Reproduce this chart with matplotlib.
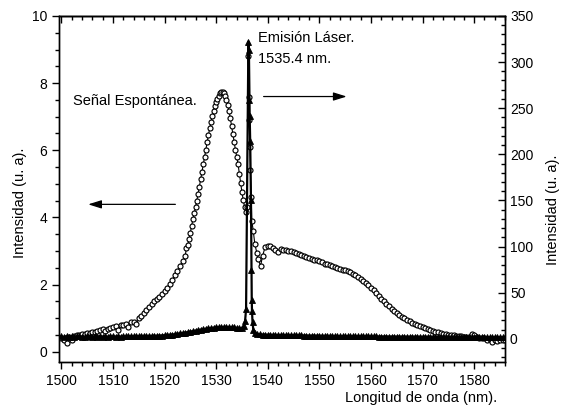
import numpy as np
import matplotlib
matplotlib.use("Agg")
from matplotlib import pyplot as plt
from matplotlib.ticker import MultipleLocator

plt.rcParams['font.family'] = ['Liberation Sans', 'DejaVu Sans']

# Señal espontánea (eje izquierdo), circulos abiertos
esp_y1 = [0.42, 0.35, 0.26, 0.45, 0.34, 0.48, 0.50, 0.51, 0.52, 0.53,
          0.55, 0.56, 0.58, 0.60, 0.62, 0.64, 0.68, 0.62, 0.69, 0.71,
          0.74, 0.76, 0.66, 0.79, 0.81, 0.83, 0.74, 0.88, 0.90, 0.82,
          1.00, 1.07, 1.15, 1.24, 1.33, 1.42, 1.50, 1.57, 1.63, 1.72,
          1.80, 1.90, 2.02, 2.15, 2.28, 2.42, 2.56, 2.70]          # 1500.0 - 1523.5, paso 0.5
esp_y2 = [2.85, 3.10, 3.18, 3.35, 3.55, 3.75, 3.95, 4.12, 4.30, 4.50,
          4.70, 4.92, 5.14, 5.36, 5.58, 5.80, 6.02, 6.24, 6.45, 6.65,
          6.84, 7.01, 7.17, 7.31, 7.43, 7.54, 7.63, 7.70, 7.74, 7.74,
          7.70, 7.62, 7.50, 7.35, 7.16, 6.95, 6.72, 6.48, 6.24, 6.00,
          5.80, 5.58, 5.30, 5.02, 4.75, 4.52, 4.32, 4.15]          # 1524.0 - 1535.75, paso 0.25
esp_x3 = [1536.0, 1536.2, 1536.35, 1536.45, 1536.55, 1536.65, 1536.8,
          1536.9, 1537.2, 1537.5, 1537.9, 1538.2, 1538.6, 1539.0]
esp_y3 = [4.3, 8.8, 7.6, 6.9, 6.1, 5.4, 4.6, 3.9, 3.6, 3.2, 2.95, 2.75, 2.55, 2.85]
esp_y4 = [3.13, 3.16, 3.14, 3.10, 3.02, 2.98, 3.06, 3.04, 3.03, 3.01,
          2.99, 2.97, 2.95, 2.92, 2.88, 2.85, 2.82, 2.79, 2.76, 2.74,
          2.72, 2.69, 2.66, 2.62, 2.60, 2.57, 2.55, 2.53, 2.50, 2.48,
          2.45, 2.43, 2.40, 2.37, 2.33, 2.28, 2.22, 2.16, 2.10, 2.04,
          1.98, 1.91, 1.83, 1.75, 1.66, 1.58, 1.50, 1.42, 1.35, 1.28,
          1.22, 1.15, 1.10, 1.05, 1.00, 0.95, 0.91, 0.87, 0.83, 0.80,
          0.77, 0.73, 0.70, 0.67, 0.64, 0.62, 0.60, 0.58, 0.56, 0.54,
          0.52, 0.51, 0.50, 0.49, 0.48, 0.47, 0.46, 0.45, 0.44, 0.44,
          0.52, 0.50, 0.43, 0.42, 0.41, 0.40, 0.34, 0.38, 0.30, 0.36,
          0.33, 0.35, 0.34, 0.35]                                  # 1539.5 - 1586.0, paso 0.5

esp_x = np.concatenate([np.arange(1500.0, 1523.75, 0.5), np.arange(1524.0, 1535.8, 0.25),
                        esp_x3, np.arange(1539.5, 1586.25, 0.5)])
esp_y = np.concatenate([esp_y1, esp_y2, esp_y3, esp_y4])

# Emision laser (eje derecho), triangulos
las_y1 = [2.6, 2.1, 3.0, 2.4, 2.8, 2.2, 2.7, 3.1, 2.5, 2.3,
          2.9, 2.6, 2.2, 2.8, 2.5, 3.0, 2.4, 2.7, 2.3, 2.9,
          2.6, 2.5, 2.8, 2.4, 2.9, 2.6, 3.0, 2.7, 2.8, 3.1,
          2.9, 3.0, 3.2, 2.9, 3.3, 3.1, 3.4, 3.3, 3.5, 3.6,
          3.8, 4.0, 4.3, 4.6, 5.0, 5.4, 5.8, 6.3, 6.8, 7.3,
          7.9, 8.4, 9.0, 9.5, 10.0, 10.5, 11.0, 11.4, 11.8, 12.1,
          12.4, 12.6, 12.8, 12.9, 12.9, 12.8, 12.6, 12.3, 11.9, 11.5,
          11.2]                                                    # 1500.0 - 1535.0, paso 0.5
las_x2 = [1535.4, 1535.6, 1535.8, 1536.25, 1536.35, 1536.45, 1536.5, 1536.6,
          1536.75, 1536.85, 1536.9, 1536.95, 1537.05, 1537.2, 1537.5, 1538.0]
las_y2 = [14, 19, 32, 322, 313, 259, 241, 214, 150, 75, 42, 30, 18, 10, 6.5, 5.0]
las_y3 = [4.8, 4.6, 4.5, 4.4, 4.3, 4.3, 4.2, 4.1, 4.1, 4.0,
          4.0, 3.9, 3.9, 3.8, 3.8, 3.7, 3.7, 3.6, 3.6, 3.5,
          3.5, 3.4, 3.4, 3.3, 3.3, 3.2, 3.2, 3.1, 3.1, 3.0,
          3.0, 3.0, 2.9, 2.9, 2.9, 2.8, 2.8, 2.8, 2.7, 2.7,
          2.7, 2.7, 2.6, 2.6, 2.6, 2.6, 2.5, 2.5, 2.5, 2.5,
          2.5, 2.4, 2.4, 2.4, 2.4, 2.4, 2.3, 2.3, 2.3, 2.3,
          2.3, 2.3, 2.2, 2.2, 2.2, 2.2, 2.2, 2.2, 2.1, 2.1,
          2.1, 2.1, 2.1, 2.1, 2.0, 2.0, 2.0, 2.0, 2.0, 2.0,
          2.0, 1.9, 1.9, 1.9, 1.9, 1.9, 1.9, 1.8, 1.8, 1.8,
          1.8, 1.8, 1.8, 1.7, 1.7, 1.7]                            # 1538.5 - 1586.0, paso 0.5

las_x = np.concatenate([np.arange(1500.0, 1535.25, 0.5), las_x2, np.arange(1538.5, 1586.25, 0.5)])
las_y = np.concatenate([las_y1, las_y2, las_y3])


fig = plt.figure(figsize=(5.65, 4.08), dpi=100)
ax = fig.add_axes([0.104, 0.113, 0.790, 0.848])
ax2 = ax.twinx()

ax.plot(esp_x, esp_y, color='black', lw=0.8, marker='o', ms=3.6, mfc='white',
        mec='black', mew=0.85, zorder=3)
ax2.plot(las_x, las_y, color='black', lw=1.6, marker='^', ms=4.2, mfc='black',
         mec='black', mew=0.6)

ax.set_xlim(1499.5, 1586)
ax.set_ylim(-0.3, 10)
ax2.set_ylim(-25, 350)

ax.xaxis.set_major_locator(MultipleLocator(10))
ax.xaxis.set_minor_locator(MultipleLocator(2))
ax.yaxis.set_major_locator(MultipleLocator(2))
ax.yaxis.set_minor_locator(MultipleLocator(0.5))
ax2.yaxis.set_major_locator(MultipleLocator(50))
ax2.yaxis.set_minor_locator(MultipleLocator(10))

ax.tick_params(which='major', direction='out', length=5, width=1, labelsize=10)
ax.tick_params(which='minor', direction='out', length=3, width=1)
ax2.tick_params(which='major', direction='in', length=5, width=1, labelsize=10)
ax2.tick_params(which='minor', direction='in', length=3, width=1)

top = ax.secondary_xaxis('top')
top.xaxis.set_major_locator(MultipleLocator(10))
top.xaxis.set_minor_locator(MultipleLocator(2))
top.tick_params(which='major', direction='in', length=5, width=1, labeltop=False)
top.tick_params(which='minor', direction='in', length=3, width=1)

for a in (ax, ax2, top):
    for s in a.spines.values():
        s.set_linewidth(1.0)

ax.set_ylabel('Intensidad (u. a).', fontsize=10.5)
ax.yaxis.set_label_coords(-0.072, 0.46)
ax2.set_ylabel('Intensidad (u. a).', fontsize=10.5)
ax2.yaxis.set_label_coords(1.092, 0.44)
ax.set_xlabel('Longitud de onda (nm).', fontsize=10.5, loc='right')
ax.xaxis.set_label_coords(0.982, -0.084)

ax.text(1502.3, 7.48, 'Señal Espontánea.', fontsize=10.5, va='center', ha='left')
ax.text(1538.2, 9.35, 'Emisión Láser.', fontsize=10.5, va='center', ha='left')
ax.text(1538.2, 8.73, '1535.4 nm.', fontsize=10.5, va='center', ha='left')

arrow = dict(arrowstyle='-|>,head_length=0.8,head_width=0.25', color='black',
             lw=0.9, mutation_scale=10, shrinkA=0, shrinkB=0)
ax.annotate('', xy=(1505.2, 4.39), xytext=(1522.1, 4.39), arrowprops=arrow)
ax.annotate('', xy=(1555.3, 7.6), xytext=(1539.2, 7.6), arrowprops=arrow)

fig.savefig('out.png', dpi=100)
